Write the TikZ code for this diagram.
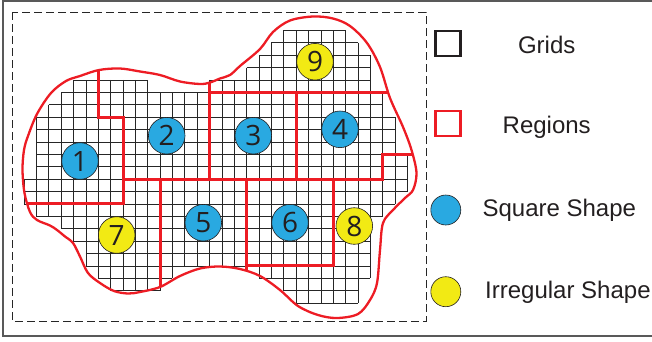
\documentclass[tikz,border=0pt]{standalone}
\usepackage{fontspec}
\setmainfont{Liberation Sans}
\newfontfamily\numfont{Open Sans}
\definecolor{regred}{HTML}{ED1C24}
\definecolor{sqblue}{HTML}{29A9E1}
\definecolor{irryel}{HTML}{F2EA14}
\definecolor{inkgray}{HTML}{231F20}
\tikzset{
  gridline/.style={draw=black!85, line width=0.65pt},
  regline/.style={draw=regred, line width=3pt, line join=miter},
  outline/.style={draw=regred, line width=2.3pt},
  shapedot/.style={circle, draw=inkgray, line width=0.6pt, minimum size=36.6pt, inner sep=0pt, font=\numfont\fontsize{28}{30}\selectfont, text=inkgray},
  legdot/.style={circle, draw=inkgray, line width=0.6pt, minimum size=30pt, inner sep=0pt},
  legsq/.style={draw, line width=2.3pt, minimum size=25pt, inner sep=0pt},
  legtext/.style={font=\fontsize{24}{26}\selectfont, text=inkgray, anchor=base, inner sep=0pt}
}
\begin{document}
\begin{tikzpicture}[x=1pt, y=-1pt]
\useasboundingbox (0,0) rectangle (652,341);
\clip (0,0) rectangle (652,341);
% outer frame
\draw[draw=black!65, line width=1.5pt] (700,0.8) -- (3,0.8) -- (3,336) -- (700,336);
% dashed frame
\draw[draw=black!85, line width=1pt, dash pattern=on 8pt off 4pt] (12,12) rectangle (426,321);
% grid
\foreach \r/\a/\b in {0/21/26, 1/20/27, 2/19/28, 3/18/28, 4/4/10, 4/15/28, 5/3/29, 6/2/29, 7/1/30, 8/1/30, 9/1/30, 10/1/31, 11/1/31, 12/0/31, 13/0/30, 14/1/29, 15/3/28, 16/4/28, 17/5/28, 18/5/28, 19/6/12, 19/19/28, 20/7/11, 20/21/27, 21/22/27}{
  \draw[gridline] ({24+12.37*\a},{30.3+12.4*\r}) -- ({24+12.37*\b},{30.3+12.4*\r});
  \draw[gridline] ({24+12.37*\a},{30.3+12.4*(\r+1)}) -- ({24+12.37*\b},{30.3+12.4*(\r+1)});
  \foreach \i in {\a,...,\b}{
    \draw[gridline] ({24+12.37*\i},{30.3+12.4*\r}) -- ++(0,12.4);
  }
}
% outline
\draw[outline] plot[smooth cycle, tension=0.55] coordinates {
 (99,70) (120,68.5) (140,71.5) (160,75) (180,81.5) (200,84) (210,82.5) (220,78.5) (230,75) (240,66) (260,49) (273,32) (290,20.5) (313,16.5) (333,18.5) (350,26) (367,43) (380,67) (390,98) (403,127) (411.5,150) (416.5,173) (413,190) (405,198) (393,210) (383,223) (380,250) (377,283) (370,300) (358,314) (337,318) (318,315) (298,306) (280,290) (260,276) (240,269) (220,266.5) (200,268.5) (180,276) (160,287) (140,292) (128,293.5) (114,291) (100,283) (88,273) (80,256.5) (73,243) (65,236.5) (57,230) (50,225.5) (37,220) (30,212) (24.5,193) (22.5,170) (24,150) (28,136) (37,114) (51,93) (66,81) (80,76)
};
% region lines
\coordinate (a1) at (98.2,70);
\coordinate (a2) at (98.2,117.1);
\coordinate (a3) at (123.0,117.1);
\coordinate (a4) at (123.0,203.9);
\coordinate (a5) at (26,203.9);
\draw[regline] (a1) -- (a2) -- (a3) -- (a4) -- (a5);
\coordinate (b1) at (123.0,179.1);
\coordinate (b2) at (382.7,179.1);
\coordinate (b3) at (382.7,154.3);
\coordinate (b4) at (412,154.3);
\draw[regline] (b1) -- (b2) -- (b3) -- (b4);
\coordinate (c1) at (209.6,82.5);
\coordinate (c2) at (209.6,179.1);
\draw[regline] (c1) -- (c2);
\coordinate (d1) at (209.6,92.3);
\coordinate (d2) at (388,92.3);
\draw[regline] (d1) -- (d2);
\coordinate (e1) at (296.1,92.3);
\coordinate (e2) at (296.1,179.1);
\draw[regline] (e1) -- (e2);
\coordinate (f1) at (160.1,179.1);
\coordinate (f2) at (160.1,287);
\draw[regline] (f1) -- (f2);
\coordinate (g1) at (246.7,179.1);
\coordinate (g2) at (246.7,270.5);
\coordinate (g3) at (246.7,265.9);
\coordinate (g4) at (333.3,265.9);
\coordinate (g5) at (333.3,179.1);
\draw[regline] (g1) -- (g2);
\draw[regline] (g3) -- (g4) -- (g5);
% shapes
\node[shapedot, fill=sqblue] (n1) at (80,161) {1};
\node[shapedot, fill=sqblue] (n2) at (166.7,135.7) {2};
\node[shapedot, fill=sqblue] (n3) at (253.3,135.7) {3};
\node[shapedot, fill=sqblue] (n4) at (340,129.3) {4};
\node[shapedot, fill=sqblue] (n5) at (203.3,222.7) {5};
\node[shapedot, fill=sqblue] (n6) at (290,222.7) {6};
\node[shapedot, fill=irryel] (n7) at (116.7,235) {7};
\node[shapedot, fill=irryel] (n8) at (354.3,226) {8};
\node[shapedot, fill=irryel] (n9) at (315,61.7) {9};
% legend
\node[legsq, draw=inkgray] (lg1) at (448,43.8) {};
\node[legtext] (lt1) at (546.7,53.3) {Grids};
\node[legsq, draw=regred] (lg2) at (448,123.7) {};
\node[legtext] (lt2) at (546.7,133.3) {Regions};
\node[legdot, fill=sqblue] (lg3) at (445.8,210) {};
\node[legtext] (lt3) at (559.3,216.7) {Square Shape};
\node[legdot, fill=irryel] (lg4) at (445.8,291.7) {};
\node[legtext, anchor=base west] (lt4) at (485,298.3) {Irregular Shape};
\end{tikzpicture}
\end{document}
